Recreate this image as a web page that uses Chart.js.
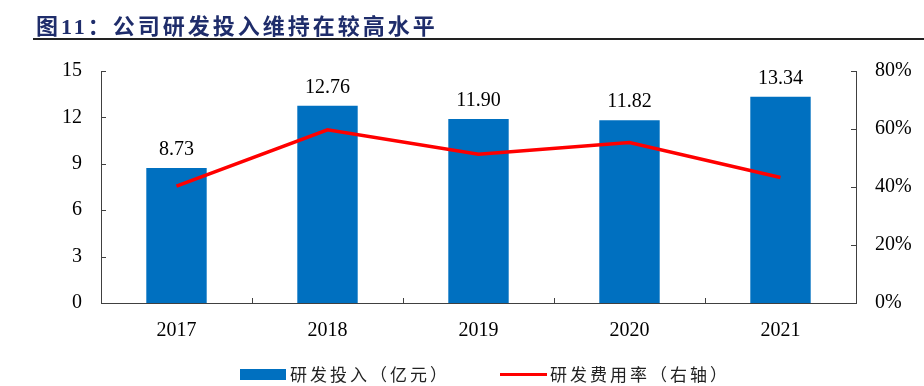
<!DOCTYPE html>
<html lang="zh">
<head>
  <meta charset="UTF-8">
  <title>公司研发投入维持在较高水平</title>
  <script src="https://cdn.jsdelivr.net/npm/chart.js"></script>
  <style>
    body { margin: 0; background: #fff; }
    #wrap { position: relative; width: 924px; height: 386px; overflow: hidden; }
    #title {
      position: absolute; left: 36px; top: 8px;
      font: bold 22px "Liberation Serif", "Noto Sans CJK SC", serif;
      color: #1F2D6B; letter-spacing: 3px; white-space: nowrap;
    }
    #rule { position: absolute; left: 33px; right: 0; top: 38px; border-top: 2px solid #222; }
    .leg { position: absolute; top: 364px; font: 17px "Noto Sans CJK SC", sans-serif;
      color: #222; letter-spacing: 3px; line-height: 20px; white-space: nowrap; }
  </style>
</head>
<body>
<div id="wrap">
  <canvas id="rdChart" width="924" height="386"></canvas>
  <div id="title">图11：公司研发投入维持在较高水平</div>
  <div id="rule"></div>
  <div style="position:absolute;left:240px;top:369px;width:46px;height:11px;background:#0070C0"></div>
  <div class="leg" style="left:290px">研发投入（亿元）</div>
  <div style="position:absolute;left:500px;top:373px;width:47px;height:3px;background:#FF0000"></div>
  <div class="leg" style="left:550px">研发费用率（右轴）</div>
</div>

<script>
// 数据
var years = ['2017', '2018', '2019', '2020', '2021'];
var rdSpend = [8.73, 12.76, 11.90, 11.82, 13.34];      // 研发投入（亿元）
var rdRatio = [40.3, 59.7, 51.3, 55.3, 43.3];          // 研发费用率（%）
var leftTicks = [0, 3, 6, 9, 12, 15];
var rightTicks = [0, 20, 40, 60, 80];

var axisColor = '#404040';
var serif = 'Liberation Serif';

// 坐标轴内侧刻度线
var innerTicks = {
  id: 'innerTicks',
  afterDraw: function (chart) {
    var c = chart.ctx, a = chart.chartArea;
    var y = chart.scales.y, y1 = chart.scales.y1, x = chart.scales.x;
    c.save();
    c.strokeStyle = axisColor;
    c.lineWidth = 1;
    c.beginPath();
    leftTicks.forEach(function (v) {
      var p = Math.round(y.getPixelForValue(v)) + 0.5;
      c.moveTo(a.left, p); c.lineTo(a.left + 5, p);
    });
    rightTicks.forEach(function (v) {
      var p = Math.round(y1.getPixelForValue(v)) + 0.5;
      c.moveTo(a.right - 5, p); c.lineTo(a.right, p);
    });
    for (var i = 1; i < years.length; i++) {
      var px = Math.round((x.getPixelForValue(i - 1) + x.getPixelForValue(i)) / 2) + 0.5;
      c.moveTo(px, a.bottom); c.lineTo(px, a.bottom - 5);
    }
    c.stroke();
    c.restore();
  }
};

// 柱顶数值
var barLabels = {
  id: 'barLabels',
  afterDatasetsDraw: function (chart) {
    var c = chart.ctx;
    var meta = chart.getDatasetMeta(0);
    c.save();
    c.font = '20px "' + serif + '"';
    c.fillStyle = '#000';
    c.textAlign = 'center';
    c.textBaseline = 'alphabetic';
    meta.data.forEach(function (bar, i) {
      c.fillText(rdSpend[i].toFixed(2), bar.x, bar.y - 13);
    });
    c.restore();
  }
};

var ctx = document.getElementById('rdChart').getContext('2d');
new Chart(ctx, {
  type: 'bar',
  data: {
    labels: years,
    datasets: [{
      label: '研发投入（亿元）',
      data: rdSpend,
      backgroundColor: '#0070C0',
      categoryPercentage: 1,
      barPercentage: 0.4,
      yAxisID: 'y',
      order: 1
    }, {
      type: 'line',
      label: '研发费用率（右轴）',
      data: rdRatio,
      borderColor: '#FF0000',
      borderWidth: 3.5,
      pointRadius: 0,
      tension: 0,
      yAxisID: 'y1',
      order: 0
    }]
  },
  options: {
    responsive: false,
    animation: false,
    layout: { padding: { top: 71, left: 0, right: 0, bottom: 43 } },
    plugins: { legend: { display: false }, tooltip: { enabled: false } },
    scales: {
      x: {
        grid: { display: false, drawTicks: false },
        border: { display: true, color: axisColor, width: 1 },
        ticks: { color: '#000', padding: 16, font: { family: serif, size: 20 } },
        afterFit: function (s) { s.height = 40; }
      },
      y: {
        position: 'left',
        min: 0, max: 15,
        afterBuildTicks: function (s) { s.ticks = leftTicks.map(function (v) { return { value: v }; }); },
        grid: { display: false, drawTicks: false },
        border: { display: true, color: axisColor, width: 1 },
        ticks: { color: '#000', padding: 19, font: { family: serif, size: 20 } },
        afterFit: function (s) { s.width = 101; }
      },
      y1: {
        position: 'right',
        min: 0, max: 80,
        afterBuildTicks: function (s) { s.ticks = rightTicks.map(function (v) { return { value: v }; }); },
        grid: { display: false, drawTicks: false },
        border: { display: true, color: axisColor, width: 1 },
        ticks: {
          color: '#000', padding: 19, font: { family: serif, size: 20 },
          callback: function (v) { return v + '%'; }
        },
        afterFit: function (s) { s.width = 68; }
      }
    }
  },
  plugins: [innerTicks, barLabels]
});
</script>
</body>
</html>
